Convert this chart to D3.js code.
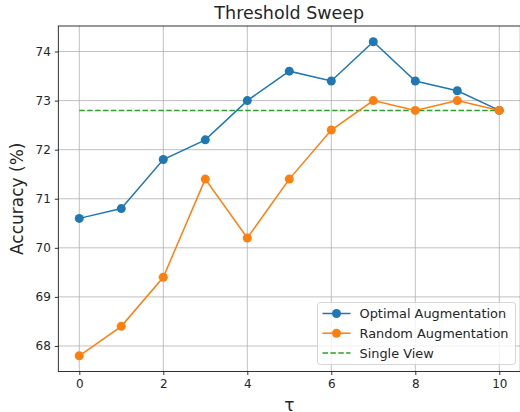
<!DOCTYPE html>
<html>
<head>
<meta charset="utf-8">
<script src="https://cdn.jsdelivr.net/npm/d3@7"></script>
<style>
  body { margin: 0; background: #fff; }
  text { font-family: "DejaVu Sans", sans-serif; fill: #262626; }
</style>
</head>
<body>
<div class="chart"></div>
<script>
const taus = [0, 1, 2, 3, 4, 5, 6, 7, 8, 9, 10];
const optimal = [70.6, 70.8, 71.8, 72.2, 73.0, 73.6, 73.4, 74.2, 73.4, 73.2, 72.8];
const random = [67.8, 68.4, 69.4, 71.4, 70.2, 71.4, 72.4, 73.0, 72.8, 73.0, 72.8];
const singleView = 72.8;
const xTicks = [0, 2, 4, 6, 8, 10];
const yTicks = [68, 69, 70, 71, 72, 73, 74];

const width = 520, height = 412;
const mLeft = 58.3, mRight = 520.3, mTop = 26, mBottom = 371.5;

const svg = d3.select('.chart').append('svg')
  .attr('width', width)
  .attr('height', height)

const x = d3.scaleLinear().domain([-0.5, 10.5]).range([mLeft, mRight]);
const y = d3.scaleLinear().domain([67.48, 74.52]).range([mBottom, mTop]);

// grid
svg.append('g').selectAll('line')
  .data(xTicks).enter().append('line')
  .attr('x1', d => x(d)).attr('x2', d => x(d))
  .attr('y1', mTop).attr('y2', mBottom)
  .attr('stroke', '#b0b0b0').attr('stroke-width', 0.8)
svg.append('g').selectAll('line')
  .data(yTicks).enter().append('line')
  .attr('x1', mLeft).attr('x2', mRight)
  .attr('y1', d => y(d)).attr('y2', d => y(d))
  .attr('stroke', '#b0b0b0').attr('stroke-width', 0.8)

// axes
const xAxis = svg.append('g')
  .attr('transform', `translate(0,${mBottom})`)
  .call(d3.axisBottom(x).tickValues(xTicks).tickFormat(d3.format('d')).tickSize(3.5).tickPadding(4))
const yAxis = svg.append('g')
  .attr('transform', `translate(${mLeft},0)`)
  .call(d3.axisLeft(y).tickValues(yTicks).tickFormat(d3.format('d')).tickSize(3.5).tickPadding(4))
;[xAxis, yAxis].forEach(g => {
  g.select('.domain').remove();
  g.selectAll('line').attr('stroke', '#000').attr('stroke-width', 0.8);
  g.selectAll('text').style('font-size', '12px').attr('fill', '#262626')
    .style('font-family', '"DejaVu Sans", sans-serif');
})

// spines
svg.append('rect')
  .attr('x', mLeft).attr('y', mTop)
  .attr('width', mRight - mLeft).attr('height', mBottom - mTop)
  .attr('fill', 'none').attr('stroke', '#000').attr('stroke-width', 0.8)

// single view
svg.append('line')
  .attr('x1', x(taus[0])).attr('x2', x(taus[taus.length - 1]))
  .attr('y1', y(singleView)).attr('y2', y(singleView))
  .attr('stroke', '#2ca02c').attr('stroke-width', 1.5)
  .attr('stroke-dasharray', '5.5,2.4')

const line = d3.line().x((d, i) => x(taus[i])).y(d => y(d));
const series = [
  { name: 'Optimal Augmentation', values: optimal, color: '#1f77b4' },
  { name: 'Random Augmentation', values: random, color: '#ff7f0e' }
];
series.forEach(s => {
  svg.append('path')
    .attr('d', line(s.values))
    .attr('fill', 'none').attr('stroke', s.color).attr('stroke-width', 1.5)
  svg.append('g').selectAll('circle')
    .data(s.values).enter().append('circle')
    .attr('cx', (d, i) => x(taus[i])).attr('cy', d => y(d))
    .attr('r', 4.5).attr('fill', s.color)
})

// title & labels
svg.append('text')
  .attr('x', (mLeft + mRight) / 2).attr('y', 19)
  .attr('text-anchor', 'middle').style('font-size', '17.5px')
  .text('Threshold Sweep')
svg.append('text')
  .attr('transform', `translate(23,${(mTop + mBottom) / 2}) rotate(-90)`)
  .attr('text-anchor', 'middle').style('font-size', '17px')
  .text('Accuracy (%)')
svg.append('text')
  .attr('x', (mLeft + mRight) / 2).attr('y', 411)
  .attr('text-anchor', 'middle').style('font-size', '17px')
  .text('τ')

// legend
const legend = svg.append('g').attr('transform', 'translate(317.5,302.5)')
legend.append('rect')
  .attr('width', 198).attr('height', 62).attr('rx', 3)
  .attr('fill', '#fff').attr('fill-opacity', 0.8)
  .attr('stroke', '#cccccc').attr('stroke-width', 0.8)
const items = series.concat([{ name: 'Single View', color: '#2ca02c', dashed: true }]);
items.forEach((s, i) => {
  const yy = 11 + i * 19.7;
  legend.append('line')
    .attr('x1', 5).attr('x2', 33).attr('y1', yy).attr('y2', yy)
    .attr('stroke', s.color).attr('stroke-width', 1.5)
    .attr('stroke-dasharray', s.dashed ? '5.5,2.4' : null)
  if (!s.dashed) legend.append('circle').attr('cx', 19).attr('cy', yy).attr('r', 4.5).attr('fill', s.color)
  legend.append('text')
    .attr('x', 42).attr('y', yy + 4.6)
    .style('font-size', '12.9px')
    .text(s.name)
})
</script>
</body>
</html>
